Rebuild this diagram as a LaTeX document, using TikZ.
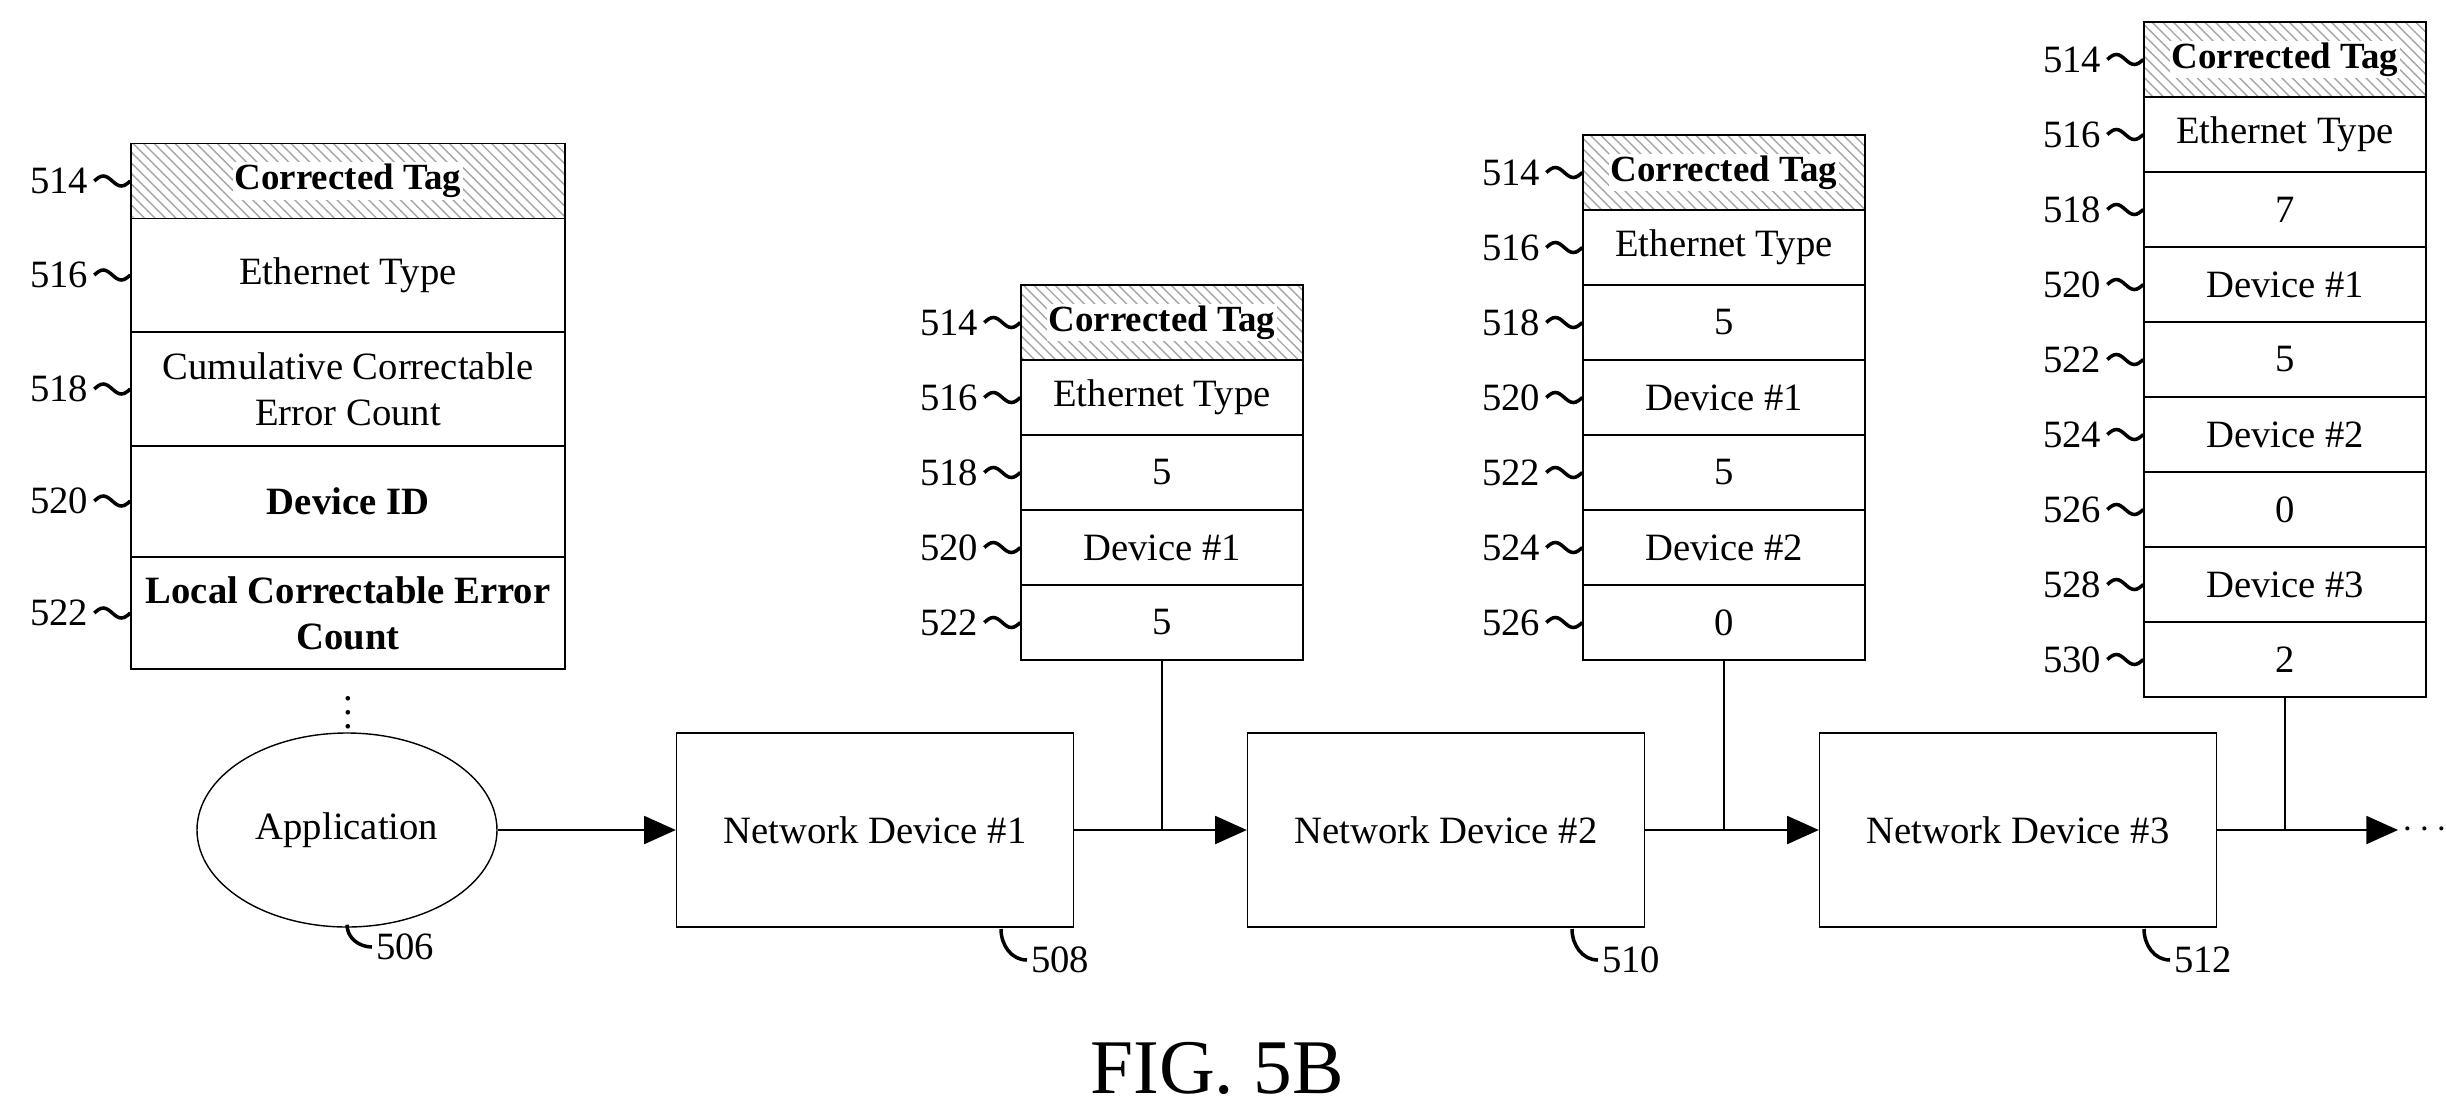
\documentclass[tikz,border=0pt]{standalone}
\usepackage{fontspec}
\setmainfont{Liberation Serif}
\usetikzlibrary{positioning,arrows.meta,patterns,shapes.geometric}
\tikzset{x=0.1mm, y=-0.1mm,
line width=1.3pt,
>={Triangle[length=9pt,width=8pt]},
every node/.style={font=\fontsize{11}{13}\selectfont},
field/.style={draw, minimum width=28.2mm, minimum height=7.5mm, inner sep=0pt, align=center}, % one row of a tag stack
tag/.style={field, pattern=north west lines, pattern color=gray!70,
  label={[fill=white, inner sep=0.5pt, font=\fontsize{10.5}{12}\selectfont\bfseries]center:Corrected Tag}},
num/.style={inner sep=1pt, anchor=east},
device/.style={draw, minimum width=39.7mm, minimum height=19.4mm},
}
\newcommand{\squig}[1]{\draw[line width=1pt] (#1) ++(-36,0) sin ++(9,-5) cos ++(9,5) sin ++(9,5) cos ++(9,-5);}
\begin{document}
\begin{tikzpicture}
\useasboundingbox (0,0) rectangle (2446,1107);

% left stack
\node[tag, minimum width=43.4mm] (l514) at (348,181) {};
\node[field, minimum width=43.4mm, minimum height=11.3mm] (l516) at (348,275) {Ethernet Type};
\node[field, minimum width=43.4mm, minimum height=11.4mm] (l518) at (348,389) {Cumulative Correctable\\Error Count};
\node[field, minimum width=43.4mm, minimum height=11.1mm, font=\fontsize{11}{13}\selectfont\bfseries] (l520) at (348,501) {Device ID};
\node[field, minimum width=43.4mm, minimum height=11.2mm, font=\fontsize{11}{13}\selectfont\bfseries] (l522) at (348,613) {Local Correctable Error\\Count};
\foreach \n in {514,516,518,520,522} {
  \squig{l\n.west}
  \node[num] at ([xshift=-3.8mm]l\n.west) {\n};
}
\node[inner sep=0pt] (dots) at (348,702) {$\vdots$};

% stack after device 1
\foreach \t/\n [count=\i] in {/514,Ethernet Type/516,5/518,Device \#1/520,5/522} {
  \ifnum\i=1
    \node[tag] (a\n) at (1162,{285+37.5}) {};
  \else
    \node[field] (a\n) at (1162,{285+37.5+(\i-1)*75}) {\t};
  \fi
  \squig{a\n.west}
  \node[num] at ([xshift=-3.8mm]a\n.west) {\n};
}

% stack after device 2
\foreach \t/\n [count=\i] in {/514,Ethernet Type/516,5/518,Device \#1/520,5/522,Device \#2/524,0/526} {
  \ifnum\i=1
    \node[tag] (b\n) at (1724,{135+37.5}) {};
  \else
    \node[field] (b\n) at (1724,{135+37.5+(\i-1)*75}) {\t};
  \fi
  \squig{b\n.west}
  \node[num] at ([xshift=-3.8mm]b\n.west) {\n};
}

% stack after device 3
\foreach \t/\n [count=\i] in {/514,Ethernet Type/516,7/518,Device \#1/520,5/522,Device \#2/524,0/526,Device \#3/528,2/530} {
  \ifnum\i=1
    \node[tag] (c\n) at (2285,{22+37.5}) {};
  \else
    \node[field] (c\n) at (2285,{22+37.5+(\i-1)*75}) {\t};
  \fi
  \squig{c\n.west}
  \node[num] at ([xshift=-3.8mm]c\n.west) {\n};
}

% devices
\node[ellipse, draw, minimum width=30mm, minimum height=19.4mm] (app) at (347,830) {Application};
\node[device] (nd1) at (875,830) {Network Device \#1};
\node[device] (nd2) at (1446,830) {Network Device \#2};
\node[device] (nd3) at (2018,830) {Network Device \#3};
\node[anchor=west, inner sep=1pt] (more) at (2398,830) {$\cdots$};

\draw[->] (app) -- (nd1);
\draw[->] (nd1) -- (nd2);
\draw[->] (nd2) -- (nd3);
\draw[->] (nd3) -- (more);
\draw (a522.south) -- (a522.south |- nd1.east);
\draw (b526.south) -- (b526.south |- nd2.east);
\draw (c530.south) -- (c530.south |- nd3.east);

% reference numerals
\node[anchor=west, inner sep=1pt] (r506) at (372,947) {506};
\draw[line width=1pt] (app.south) ++(0,-3) to[out=-90,in=180] (r506.west);
\node[anchor=west, inner sep=1pt] (r508) at (1027,960) {508};
\draw[line width=1pt] (1001,929) to[out=-90,in=180] (r508.west);
\node[anchor=west, inner sep=1pt] (r510) at (1598,960) {510};
\draw[line width=1pt] (1572,929) to[out=-90,in=180] (r510.west);
\node[anchor=west, inner sep=1pt] (r512) at (2170,960) {512};
\draw[line width=1pt] (2144,929) to[out=-90,in=180] (r512.west);

\node[font=\fontsize{22}{26}\selectfont] (fig) at (1217,1068) {FIG. 5B};
\end{tikzpicture}
\end{document}
